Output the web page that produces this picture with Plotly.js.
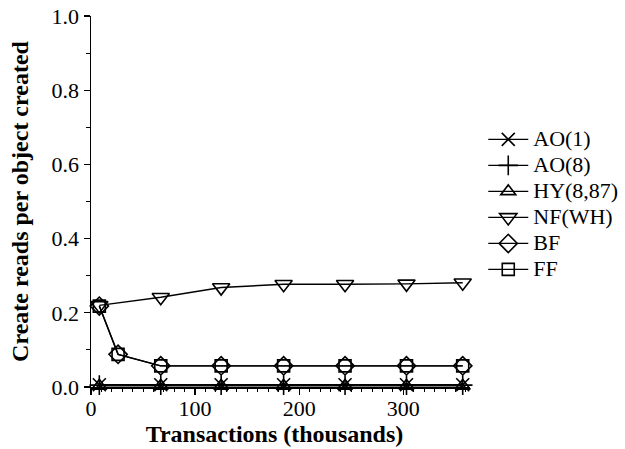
<!DOCTYPE html>
<html>
<head>
<meta charset="utf-8">
<script src="https://cdn.plot.ly/plotly-3.0.1.min.js"></script>
<style>
  html, body { margin: 0; padding: 0; background: #fff; }
  #chart { width: 625px; height: 449px; }
</style>
</head>
<body>
<div id="chart"></div>
<script>
// Transactions (thousands) at which each policy was sampled
const transactions = [8, 26, 67, 125, 185, 244, 303, 357];

// Create reads per object created, one array per policy
const ao1 = [0.006, null, 0.006, 0.006, 0.006, 0.006, 0.006, 0.006];
const ao8 = [0.005, null, 0.005, 0.005, 0.005, 0.005, 0.005, 0.005];
const hy887 = [0.003, null, 0.003, 0.003, 0.003, 0.003, 0.003, 0.003];
const nfwh = [0.22, null, 0.242, 0.268, 0.277, 0.277, 0.278, 0.281];
const bf = [0.218, 0.088, 0.057, 0.057, 0.057, 0.057, 0.057, 0.057];
const ff = [0.218, 0.088, 0.057, 0.057, 0.057, 0.057, 0.057, 0.057];

const seriesNames = ["AO(1)", "AO(8)", "HY(8,87)", "NF(WH)", "BF", "FF"];
const seriesValues = [ao1, ao8, hy887, nfwh, bf, ff];
const seriesSymbols = ["x-thin-open", "cross-thin-open", "triangle-up-open",
                       "triangle-down-open", "diamond-open", "square-open"];
const seriesSizes = [13, 14, 13, 15, 14, 12];

const serif = "'Liberation Serif', 'Times New Roman', serif";

const traces = seriesNames.map((name, i) => ({
  type: "scatter",
  mode: "lines+markers",
  name: '<span style="font-size:22px">' + name + '</span>',
  x: transactions,
  y: seriesValues[i],
  connectgaps: true,
  line: { color: "#000", width: 1.4 },
  marker: {
    symbol: seriesSymbols[i],
    size: seriesSizes[i],
    color: "#000",
    line: { color: "#000", width: 1.6 }
  },
  cliponaxis: false
}));

const layout = {
  width: 625,
  height: 449,
  paper_bgcolor: "#fff",
  plot_bgcolor: "#fff",
  margin: { l: 91, r: 155, t: 16, b: 62, autoexpand: false },
  font: { family: serif, color: "#000", size: 20 },
  showlegend: true,
  legend: {
    x: 1.035, xanchor: "left",
    y: 0.716, yanchor: "top",
    font: { family: serif, size: 17.7, color: "#000" },
    itemwidth: 40,
    tracegroupgap: 0,
    bgcolor: "rgba(0,0,0,0)"
  },
  xaxis: {
    range: [0, 364],
    showgrid: false,
    zeroline: false,
    showline: true,
    linecolor: "#000",
    linewidth: 1.5,
    ticks: "outside",
    ticklen: 6,
    tickwidth: 1.3,
    tickcolor: "#000",
    tickvals: [0, 100, 200, 300],
    ticktext: ["0", "100", "200", "300"],
    tickfont: { family: serif, size: 22, color: "#000" },
    ticklabelstandoff: -5,
    minor: { dtick: 10, ticks: "outside", ticklen: 3.5, tickwidth: 1, tickcolor: "#000" },
    title: {
      text: "<b>Transactions (thousands)</b>&nbsp;&nbsp;",
      font: { family: serif, size: 24, color: "#000" },
      standoff: 0
    }
  },
  yaxis: {
    range: [0, 1.0],
    showgrid: false,
    zeroline: false,
    showline: true,
    linecolor: "#000",
    linewidth: 1.5,
    ticks: "outside",
    ticklen: 6,
    tickwidth: 1.3,
    tickcolor: "#000",
    tickvals: [0, 0.2, 0.4, 0.6, 0.8, 1.0],
    ticktext: ["0.0", "0.2", "0.4", "0.6", "0.8", "1.0"],
    tickfont: { family: serif, size: 22, color: "#000" },
    minor: { dtick: 0.1, ticks: "outside", ticklen: 3.5, tickwidth: 1, tickcolor: "#000" },
    title: {
      text: "<b>Create reads per object created</b>",
      font: { family: serif, size: 24, color: "#000" },
      standoff: 16
    }
  }
};

Plotly.newPlot("chart", traces, layout, { displayModeBar: false, staticPlot: true });
</script>
</body>
</html>
